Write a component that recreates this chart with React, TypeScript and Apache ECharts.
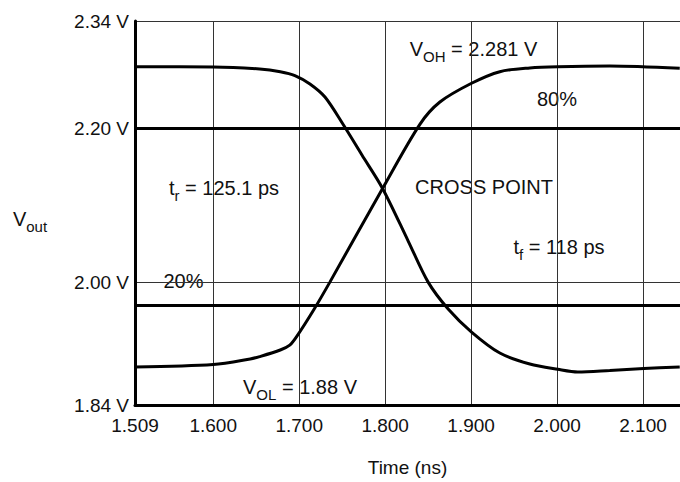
import React, { useEffect, useRef } from 'react';
import * as echarts from 'echarts';

// Falling output (t in ns, V in volts)
const fallTime = [1.509, 1.6, 1.654, 1.678, 1.695, 1.7125, 1.73, 1.751, 1.773, 1.797, 1.8268, 1.85, 1.8733, 1.9005, 1.9334, 1.9683, 2.0009, 2.0241, 2.0613, 2.1009, 2.1427];
const fallVolt = [2.2805, 2.2802, 2.2775, 2.274, 2.269, 2.258, 2.241, 2.2055, 2.1655, 2.122, 2.0535, 2.0, 1.965, 1.935, 1.9077, 1.8934, 1.8865, 1.883, 1.885, 1.8875, 1.8895];
// Rising output
const riseTime = [1.509, 1.6, 1.643, 1.654, 1.678, 1.689, 1.697, 1.7175, 1.7357, 1.797, 1.8404, 1.8637, 1.9005, 1.9334, 1.9683, 2.0009, 2.0613, 2.1427];
const riseVolt = [1.8895, 1.8927, 1.9, 1.903, 1.9116, 1.918, 1.929, 1.965, 2.0, 2.122, 2.2055, 2.2345, 2.2589, 2.274, 2.2789, 2.2805, 2.2814, 2.2784];

const thresholdVolts = [2.2048, 1.9654]; // 80 % and 20 % levels
const gridTimes = [1.6, 1.7, 1.8, 1.9, 2.0, 2.1];
const gridVolts = [2.0, 2.2, 2.34];
const xTickLabels = [1.509, 1.6, 1.7, 1.8, 1.9, 2.0, 2.1];
const yTickLabels = [1.84, 2.0, 2.2, 2.34];

const FONT = 'Liberation Sans, Arial, sans-serif';
const INK = '#111';

function richText(x: number, y: number, text: string, padding: number[]) {
  return {
    type: 'text',
    x,
    y,
    z: 5,
    style: {
      text,
      align: 'center',
      verticalAlign: 'middle',
      backgroundColor: '#fff',
      padding,
      fill: INK,
      fontFamily: FONT,
      fontSize: 20,
      rich: {
        b: { fontFamily: FONT, fontSize: 20, lineHeight: 22, verticalAlign: 'top', fill: INK },
        s: { fontFamily: FONT, fontSize: 15, lineHeight: 16, padding: [10, 0, 0, 0], verticalAlign: 'top', fill: INK },
      },
    },
  };
}

export default function App() {
  const ref = useRef<HTMLDivElement>(null);
  useEffect(() => {
    const chart = echarts.init(ref.current!, null, { renderer: 'svg' });
    const option: any = {
      animation: false,
      backgroundColor: '#fff',
      grid: { left: 135, right: 0, top: 21, bottom: 77, containLabel: false },
      xAxis: {
        type: 'value',
        z: 20,
        min: 1.509,
        max: 2.143,
        name: 'Time (ns)',
        nameLocation: 'middle',
        nameGap: 53,
        nameTextStyle: { fontFamily: FONT, fontSize: 19, color: INK },
        axisLine: { onZero: false, lineStyle: { color: '#000', width: 3 } },
        axisTick: { show: false },
        splitLine: { show: false },
        axisLabel: {
          customValues: xTickLabels,
          formatter: (v: number) => v.toFixed(3),
          fontFamily: FONT,
          fontSize: 19,
          color: INK,
          margin: 11,
        },
      },
      yAxis: {
        type: 'value',
        z: 20,
        min: 1.84,
        max: 2.34,
        axisLine: { show: true, onZero: false, lineStyle: { color: '#000', width: 3 } },
        axisTick: { show: false },
        splitLine: { show: false },
        axisLabel: {
          customValues: yTickLabels,
          formatter: (v: number) => `${v.toFixed(2)} V`,
          fontFamily: FONT,
          fontSize: 19,
          color: INK,
          margin: 6,
        },
      },
      series: [
        {
          type: 'line',
          z: 1,
          data: [],
          silent: true,
          markLine: {
            silent: true,
            symbol: ['none', 'none'],
            label: { show: false },
            lineStyle: { color: '#333', width: 1, type: 'solid' },
            data: [
              ...gridTimes.map((t) => ({ xAxis: t })),
              ...gridVolts.map((v) => ({ yAxis: v })),
            ],
          },
        },
        {
          type: 'line',
          z: 10,
          data: [],
          silent: true,
          markLine: {
            silent: true,
            symbol: ['none', 'none'],
            label: { show: false },
            lineStyle: { color: '#000', width: 3, type: 'solid' },
            data: thresholdVolts.map((v) => ({ yAxis: v })),
          },
        },
        {
          type: 'line',
          z: 10,
          data: fallTime.map((t, i) => [t, fallVolt[i]]),
          showSymbol: false,
          smooth: 0.3,
          lineStyle: { color: '#000', width: 3 },
        },
        {
          type: 'line',
          z: 10,
          data: riseTime.map((t, i) => [t, riseVolt[i]]),
          showSymbol: false,
          smooth: 0.3,
          lineStyle: { color: '#000', width: 3 },
        },
      ],
      graphic: [
        richText(30, 220, '{b|V}{s|out}', [0, 0, 0, 0]),
        richText(476, 47.5, '{b|V}{s|OH}{b| = 2.281 V}', [12, 20, 7, 15]),
        richText(557, 98.5, '{b|80%}', [7, 6, 4, 6]),
        richText(484, 186, '{b|CROSS POINT}', [10, 4, 6, 4]),
        richText(224, 184.5, '{b|t}{s|r}{b| = 125.1 ps}', [13, 6, 5, 6]),
        richText(559, 245, '{b|t}{s|f}{b| = 118 ps}', [12, 6, 6, 6]),
        richText(186, 278, '{b|20%}', [18, 13, 10, 8]),
        richText(300, 384, '{b|V}{s|OL}{b| = 1.88 V}', [9, 6, 1, 6]),
      ],
    };
    chart.setOption(option);
    return () => chart.dispose();
  }, []);
  return (
    <div
      ref={ref}
      style={{ position: 'fixed', left: 0, top: 0, width: 680, height: 482, background: '#fff' }}
    />
  );
}
